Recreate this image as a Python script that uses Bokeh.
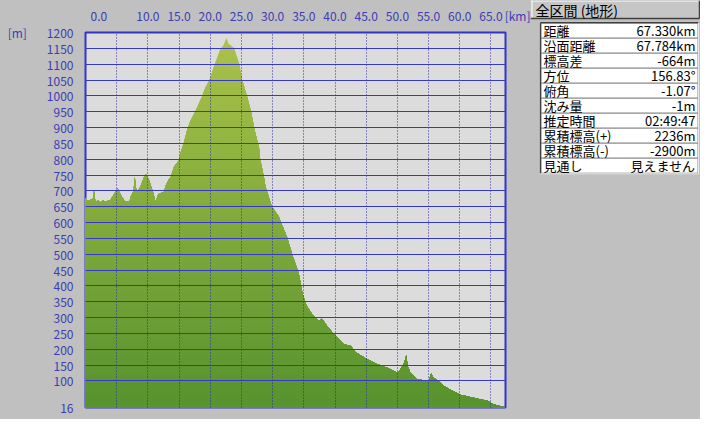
import numpy as np
from bokeh.plotting import figure
from bokeh.models import Range1d, FixedTicker, NumeralTickFormatter
from bokeh.layouts import row
from bokeh.embed import file_html
from bokeh.resources import INLINE
from bokeh.core.properties import value

# ---- data ----
dist_km = [0.0, 0.32, 0.8, 1.2, 1.36, 1.6, 2.0, 2.4, 2.8, 3.2, 3.6, 4.0, 4.6, 5.13, 5.6,
           6.25, 7.05, 7.2, 7.7, 7.9, 8.1, 8.33, 8.8, 9.3, 9.66, 10.2, 10.74, 11.06, 11.27,
           11.54, 11.81, 12.6, 12.87, 13.3, 13.67, 13.94, 14.2, 15.0, 15.2, 15.75, 16.3,
           16.8, 17.6, 18.7, 19.2, 19.9, 20.8, 21.6, 22.1, 22.6, 22.9, 23.8, 24.6, 25.1,
           25.9, 26.6, 27.1, 27.8, 28.0, 28.6, 28.85, 29.9, 31.0, 32.3, 33.1, 34.2, 34.7,
           35.3, 36.3, 36.6, 37.4, 37.9, 38.7, 39.8, 41.4, 42.5, 43.3, 43.8, 45.1, 46.7,
           48.3, 50.0, 50.5, 51.1, 51.4, 51.65, 52.1, 53.2, 55.0, 55.4, 55.8, 56.6, 57.4,
           60.1, 62.2, 64.4, 65.4, 67.33]
elev_m = [678, 668, 672, 675, 700, 665, 670, 664, 671, 665, 669, 672, 690, 708, 690,
          668, 665, 680, 700, 744, 710, 697, 713, 740, 753, 734, 702, 680, 660,
          685, 692, 697, 718, 735, 744, 760, 776, 797, 818, 850, 892,
          920, 950, 998, 1025, 1051, 1104, 1146, 1160, 1183, 1165, 1151, 1104, 1051,
          998, 945, 892, 839, 800, 744, 713, 650, 618, 554, 502, 438, 385,
          343, 311, 306, 290, 296, 274, 248, 216, 211, 190, 185, 169, 153,
          142, 126, 137, 158, 182, 148, 126, 105, 100, 123, 110, 100, 84,
          56, 47, 37, 26, 16]

X_MAX = 67.33
Y_MIN, Y_MAX = 16, 1200

x_tick_values = [0, 10, 15, 20, 25, 30, 35, 40, 45, 50, 55, 60, 65, X_MAX]
x_grid_values = [5, 10, 15, 20, 25, 30, 35, 40, 45, 50, 55, 60, 65]
y_tick_values = [16] + list(range(100, 1201, 50))
y_grid_values = list(range(100, 1151, 50))
x_unit = "[km]"
y_unit = "[m]"

info_labels = ["距離", "沿面距離", "標高差", "方位", "俯角", "沈み量", "推定時間",
               "累積標高(+)", "累積標高(-)", "見通し"]
info_values = ["67.330km", "67.784km", "-664m", "156.83°", "-1.07°", "-1m", "02:49:47",
               "2236m", "-2900m", "見えません"]
header_text = "全区間 (地形)"

FONT = "Noto Sans CJK JP"
LABEL_COLOR = "#3c3cb4"
BG = "#c0c0c0"
XPAD = "\u2007" * 4   # figure spaces nudging the edge labels on the top axis
YPAD = "\u2007" * 3   # gap between the unit and the top value on the left axis

# ---- main profile chart ----
p = figure(width=530, height=419, x_range=Range1d(0, X_MAX), y_range=Range1d(Y_MIN, Y_MAX),
           output_backend="svg", toolbar_location=None, x_axis_location="above",
           min_border_left=85, min_border_right=25, min_border_top=32, min_border_bottom=12)
p.frame_align = False
p.background_fill_color = "#dcdcdc"
p.border_fill_color = BG
p.outline_line_color = "#3434c4"
p.outline_line_width = 2

for ax in (p.xaxis[0], p.yaxis[0]):
    ax.axis_line_color = None
    ax.major_tick_line_color = None
    ax.minor_tick_line_color = None
    ax.major_label_text_font = FONT
    ax.major_label_text_font_size = "12px"
    ax.major_label_text_color = LABEL_COLOR
p.xaxis[0].ticker = FixedTicker(ticks=x_tick_values)
p.xaxis[0].formatter = NumeralTickFormatter(format="0.0")
p.xaxis[0].major_label_overrides = {0: XPAD + "0.0", X_MAX: XPAD + x_unit}
p.xaxis[0].major_label_standoff = 3
p.yaxis[0].ticker = FixedTicker(ticks=y_tick_values)
p.yaxis[0].major_label_overrides = {Y_MAX: y_unit + YPAD + str(Y_MAX)}
p.yaxis[0].major_label_standoff = 6

p.xgrid.ticker = FixedTicker(ticks=x_grid_values)
p.xgrid.grid_line_color = "#2a2aa0"
p.xgrid.grid_line_dash = "1 2"
p.xgrid.level = "overlay"
p.ygrid.ticker = FixedTicker(ticks=y_grid_values)
p.ygrid.grid_line_color = "#3838c8"
p.ygrid.grid_line_width = 1.2
p.ygrid.level = "overlay"

# vertical gradient fill: overlapping bands, highest first
x = np.array(dist_km, dtype=float)
e = np.array(elev_m, dtype=float)
bottom_rgb = np.array([86, 146, 46])
top_rgb = np.array([170, 194, 74])
levels = np.linspace(Y_MIN, e.max(), 46)[1:]
for hi in levels[::-1]:
    t = (hi - Y_MIN) / (e.max() - Y_MIN)
    c = (bottom_rgb + (top_rgb - bottom_rgb) * t).astype(int)
    p.varea(x=x, y1=np.full_like(e, Y_MIN), y2=np.minimum(e, hi),
            fill_color="#%02x%02x%02x" % tuple(c), fill_alpha=1.0)

# ---- info table panel ----
TW = 170
tb = figure(width=TW, height=419, x_range=Range1d(0, TW), y_range=Range1d(419, 0),
            output_backend="svg", toolbar_location=None, min_border=0,
            x_axis_type=None, y_axis_type=None)
tb.frame_align = False
tb.grid.visible = False
tb.outline_line_color = None
tb.background_fill_color = BG
tb.border_fill_color = BG

# header "button"
tb.quad(left=0, right=TW - 1, top=0, bottom=18, fill_color="#c6c6c6", line_color=None)
tb.segment(x0=[0, 1.5], y0=[0.5, 0], x1=[TW - 1, 1.5], y1=[0.5, 18], line_color="white", line_width=1)
tb.segment(x0=[TW - 1, 0], y0=[0, 18], x1=[TW - 1, TW - 1], y1=[18, 18], line_color="#404040", line_width=1.5)
tb.text(x=[5], y=[9.5], text=[header_text], text_font=value(FONT), text_font_size="14px",
        text_baseline="middle", text_color="black")

# table rows
n = len(info_labels)
row_top = [22.7 + 15 * i for i in range(n)]
row_bot = [22.7 + 15 * (i + 1) for i in range(n)]
tb.quad(left=10.5, right=TW - 2.5, top=row_top, bottom=row_bot, fill_color="white",
        line_color="#8c8c8c", line_width=1)
# sunken outer border: dark top/left, light bottom/right
tb.segment(x0=[10, 10], y0=[22.2, 22.2], x1=[TW - 2, 10], y1=[22.2, row_bot[-1]],
           line_color="#404040", line_width=1.2)
tb.segment(x0=[10, TW - 2], y0=[row_bot[-1] + 0.6, 22.2], x1=[TW - 2, TW - 2],
           y1=[row_bot[-1] + 0.6, row_bot[-1] + 0.6], line_color="#e8e8e8", line_width=1)
row_mid = [(a + b) / 2 for a, b in zip(row_top, row_bot)]
tb.text(x=[13] * n, y=row_mid, text=info_labels, text_font=value(FONT), text_font_size="13px",
        text_baseline="middle", text_color="black")
tb.text(x=[TW - 5] * n, y=row_mid, text=info_values, text_font=value(FONT), text_font_size="13px",
        text_baseline="middle", text_align="right", text_color="black")

layout = row(p, tb, styles={"background-color": BG})
open("out.html", "w").write(file_html(layout, INLINE))
